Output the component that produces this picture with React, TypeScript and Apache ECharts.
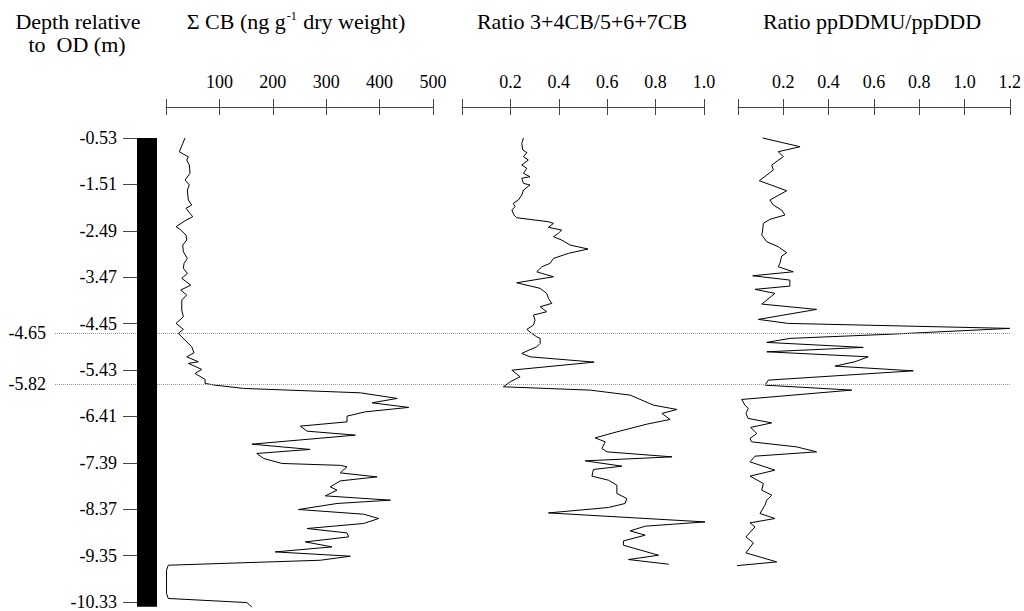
import React, { useEffect, useRef } from 'react';
import * as echarts from 'echarts';

const FONT = '"Liberation Serif", "DejaVu Serif", serif';

// depth axis (m relative to OD)
const depthTicks = [-0.53, -1.51, -2.49, -3.47, -4.45, -5.43, -6.41, -7.39, -8.37, -9.35, -10.33];
const depthTop = -0.53;
const depthBottom = -10.43;
const markerDepths = [-4.65, -5.73];
const markerLabels = ['-4.65', '-5.82'];

// x-axis scales
const cbTicks = [0, 100, 200, 300, 400, 500];
const ratioTicks = [0, 0.2, 0.4, 0.6, 0.8, 1.0];
const ddTicks = [0, 0.2, 0.4, 0.6, 0.8, 1.0, 1.2];

// Σ CB (ng g-1 dry weight): [value, depth]
const sumCB = [
  [35.6, -0.53], [25, -0.82], [32.5, -0.87], [41.8, -0.925], [38.8, -0.995], [43.7, -1.1], [45, -1.276],
  [35.6, -1.417], [43.7, -1.52], [40, -1.628], [41.8, -1.839], [48.2, -1.945], [37.5, -2.015], [50, -2.192],
  [35.6, -2.277], [18.8, -2.403], [26.3, -2.458], [37.5, -2.579], [38.8, -2.684], [31.3, -2.79], [32.5, -2.932],
  [40, -3.071], [33.8, -3.176], [32.5, -3.282], [40, -3.388], [29.5, -3.493], [46.3, -3.635], [27.6, -3.74],
  [38.8, -3.846], [29.5, -3.951], [29.5, -4.163], [32.5, -4.304], [18.8, -4.443], [32.5, -4.57], [23.1, -4.655],
  [35.6, -4.796], [48.2, -4.938], [52.5, -5.064], [38.8, -5.149], [60.6, -5.254], [41.8, -5.288], [67, -5.415],
  [54.4, -5.5], [73.2, -5.626], [73.2, -5.711], [91.9, -5.747], [145, -5.816], [364, -5.909], [432.8, -6.027],
  [386, -6.12], [454.5, -6.217], [373.3, -6.31], [339, -6.401], [339, -6.522], [251.4, -6.612], [264, -6.718],
  [354.6, -6.802], [160.8, -6.993], [270, -7.104], [170, -7.189], [182.5, -7.294], [217, -7.4], [326.4, -7.44],
  [339, -7.47], [326.4, -7.599], [395.3, -7.683], [326.4, -7.768], [307.7, -7.894], [320.2, -7.964],
  [298.3, -8.084], [420.2, -8.175], [320.2, -8.245], [248.2, -8.372], [370.1, -8.471], [398.3, -8.562],
  [370.1, -8.667], [264, -8.773], [339, -8.866], [342, -8.95], [260.8, -9.056], [310.9, -9.161], [204.5, -9.267],
  [345.2, -9.358], [289, -9.443], [4.3, -9.548], [1, -9.654], [1, -10.146], [4.3, -10.25], [151.4, -10.336],
  [160.8, -10.43],
];

// Ratio 3+4CB/5+6+7CB: [value, depth]
const ratioCB = [
  [0.254, -0.53], [0.247, -0.642], [0.251, -0.783], [0.268, -0.84], [0.254, -0.925], [0.274, -0.995],
  [0.247, -1.1], [0.268, -1.17], [0.254, -1.276], [0.281, -1.347], [0.247, -1.381], [0.254, -1.487],
  [0.281, -1.523], [0.254, -1.628], [0.247, -1.734], [0.233, -1.839], [0.212, -1.909], [0.219, -1.981],
  [0.206, -2.051], [0.215, -2.156], [0.226, -2.213], [0.357, -2.298], [0.378, -2.332], [0.357, -2.416],
  [0.412, -2.473], [0.398, -2.543], [0.378, -2.614], [0.412, -2.684], [0.447, -2.79], [0.521, -2.874],
  [0.44, -2.965], [0.378, -3.071], [0.364, -3.176], [0.33, -3.248], [0.309, -3.354], [0.33, -3.387],
  [0.378, -3.459], [0.226, -3.586], [0.323, -3.704], [0.35, -3.81], [0.357, -3.915], [0.371, -4.021],
  [0.323, -4.092], [0.35, -4.198], [0.295, -4.268], [0.302, -4.374], [0.295, -4.479], [0.268, -4.57],
  [0.288, -4.655], [0.309, -4.727], [0.323, -4.76], [0.323, -4.866], [0.309, -4.938], [0.261, -5.043],
  [0.247, -5.077], [0.281, -5.149], [0.447, -5.219], [0.546, -5.261], [0.206, -5.43], [0.24, -5.571],
  [0.199, -5.677], [0.171, -5.782], [0.53, -5.852], [0.695, -5.958], [0.791, -6.169], [0.888, -6.26],
  [0.826, -6.344], [0.86, -6.471], [0.764, -6.57], [0.64, -6.733], [0.55, -6.86], [0.592, -6.944],
  [0.578, -7.083], [0.599, -7.155], [0.868, -7.261], [0.509, -7.345], [0.661, -7.457], [0.543, -7.527],
  [0.537, -7.669], [0.605, -7.753], [0.64, -7.859], [0.64, -8.034], [0.681, -8.14], [0.674, -8.245],
  [0.605, -8.33], [0.357, -8.444], [1.005, -8.634], [0.757, -8.724], [0.695, -8.823], [0.757, -8.914],
  [0.667, -9.035], [0.667, -9.126], [0.812, -9.337], [0.688, -9.428], [0.854, -9.527],
];

// Ratio ppDDMU/ppDDD: [value, depth]
const ratioDD = [
  [0.109, -0.53], [0.274, -0.714], [0.178, -0.819], [0.2, -0.925], [0.149, -1.1], [0.156, -1.206],
  [0.094, -1.432], [0.215, -1.643], [0.141, -1.839], [0.156, -1.945], [0.193, -2.051], [0.207, -2.156],
  [0.141, -2.247], [0.112, -2.331], [0.109, -2.473], [0.105, -2.579], [0.127, -2.72], [0.178, -2.826],
  [0.215, -2.952], [0.193, -3.022], [0.185, -3.176], [0.178, -3.248], [0.244, -3.354], [0.065, -3.438],
  [0.229, -3.529], [0.229, -3.656], [0.075, -3.725], [0.163, -3.81], [0.105, -4.036], [0.347, -4.148],
  [0.09, -4.359], [0.222, -4.444], [1.2, -4.549], [0.685, -4.669], [0.229, -4.76], [0.127, -4.845],
  [0.553, -4.95], [0.127, -5.043], [0.575, -5.149], [0.516, -5.254], [0.428, -5.345], [0.774, -5.445],
  [0.134, -5.641], [0.119, -5.747], [0.502, -5.852], [0.016, -6.049], [0.031, -6.169], [0.045, -6.239],
  [0.035, -6.344], [0.045, -6.45], [0.149, -6.543], [0.056, -6.64], [0.083, -6.767], [0.053, -6.872],
  [0.06, -6.944], [0.259, -7.05], [0.347, -7.155], [0.075, -7.246], [0.053, -7.366], [0.163, -7.542],
  [0.053, -7.668], [0.112, -7.822], [0.105, -7.964], [0.149, -8.07], [0.127, -8.175], [0.119, -8.281],
  [0.097, -8.456], [0.163, -8.562], [0.053, -8.654], [0.075, -8.739], [0.035, -8.95], [0.068, -9.077],
  [0.035, -9.288], [0.171, -9.478], [-0.018, -9.563],
];

const titles = [
  { text: 'Depth relative', cx: 78, y: 10 },
  { text: 'to  OD (m)', cx: 77, y: 33 },
  { text: '{a|Σ CB (ng g}{s|-1}{a| dry weight)}', cx: 296, y: 10 },
  { text: 'Ratio 3+4CB/5+6+7CB', cx: 582, y: 10 },
  { text: 'Ratio ppDDMU/ppDDD', cx: 872, y: 10 },
];

const AXIS_COLOR = '#444';
const GRID_TOP = 138;
const GRID_H = 469;
const TITLE_SIZE = 22;
const LABEL_SIZE = 18;

function topAxes(gridIndex: number, ticks: number[], decimals: number) {
  const min = ticks[0];
  const max = ticks[ticks.length - 1];
  const interval = ticks[1] - ticks[0];
  const common = { type: 'value', gridIndex, position: 'top', offset: 31, min, max, interval, splitLine: { show: false } };
  return [
    {
      ...common,
      axisLine: { show: true, lineStyle: { color: AXIS_COLOR, width: 1 } },
      axisTick: { show: true, length: 8, lineStyle: { color: AXIS_COLOR } },
      axisLabel: {
        show: true, margin: 16, color: '#000', fontSize: LABEL_SIZE, fontFamily: FONT,
        formatter: (v: number) => (Math.abs(v) < 1e-9 ? '' : v.toFixed(decimals)),
      },
    },
    {
      ...common,
      axisLine: { show: false },
      axisTick: { show: true, inside: true, length: 8, lineStyle: { color: AXIS_COLOR } },
      axisLabel: { show: false },
    },
  ];
}

export default function App() {
  const ref = useRef<HTMLDivElement>(null);
  useEffect(() => {
    document.body.style.margin = '0';
    if (!ref.current) return;
    const chart = echarts.init(ref.current, null, { renderer: 'svg' });
    const hiddenY = (gridIndex: number) => ({
      type: 'value', gridIndex, min: depthBottom, max: depthTop, show: false,
    });
    const lineSeries = (data: number[][], xAxisIndex: number, yAxisIndex: number) => ({
      type: 'line', data, xAxisIndex, yAxisIndex, symbol: 'none', clip: false, z: 3,
      lineStyle: { color: '#000', width: 1 }, silent: true,
    });
    chart.setOption({
      animation: false,
      backgroundColor: '#fff',
      grid: [
        { left: 137, width: 20, top: GRID_TOP, height: GRID_H },
        { left: 166, width: 267, top: GRID_TOP, height: GRID_H },
        { left: 462, width: 242, top: GRID_TOP, height: GRID_H },
        { left: 738, width: 272, top: GRID_TOP, height: GRID_H },
        { left: 55, width: 955, top: GRID_TOP, height: GRID_H },
      ],
      xAxis: [
        { type: 'value', gridIndex: 0, min: 0, max: 1, show: false },
        ...topAxes(1, cbTicks, 0),
        ...topAxes(2, ratioTicks, 1),
        ...topAxes(3, ddTicks, 1),
        { type: 'value', gridIndex: 4, min: 0, max: 1, show: false },
      ],
      yAxis: [
        {
          type: 'value', gridIndex: 0, min: depthBottom, max: depthTop,
          axisLine: { show: false },
          splitLine: { show: false },
          axisTick: { show: true, length: 14, customValues: depthTicks, lineStyle: { color: AXIS_COLOR } },
          axisLabel: {
            show: true, margin: 20, customValues: depthTicks, color: '#000', fontSize: LABEL_SIZE, fontFamily: FONT,
            formatter: (v: number) => v.toFixed(2),
          },
        },
        hiddenY(1), hiddenY(2), hiddenY(3), hiddenY(4),
      ],
      graphic: titles.map((t) => ({
        type: 'text', x: t.cx, y: t.y,
        style: {
          text: t.text, textAlign: 'center', textVerticalAlign: 'top', fill: '#000',
          fontSize: TITLE_SIZE, fontFamily: FONT,
          rich: {
            a: { fontSize: TITLE_SIZE, fontFamily: FONT, fill: '#000' },
            s: { fontSize: 12, fontFamily: FONT, fill: '#000', verticalAlign: 'top', padding: [0, 1, 0, 1] },
          },
        },
      })),
      series: [
        {
          type: 'line', xAxisIndex: 7, yAxisIndex: 4, data: [], symbol: 'none', z: 1, silent: true,
          markLine: {
            silent: true, symbol: ['none', 'none'], animation: false,
            lineStyle: { type: 'dotted', color: '#999', width: 1 },
            label: { show: true, position: 'start', distance: 9, color: '#000', fontSize: LABEL_SIZE, fontFamily: FONT },
            data: markerDepths.map((d, i) => ({ yAxis: d, label: { formatter: markerLabels[i] } })),
          },
        },
        {
          type: 'custom', xAxisIndex: 0, yAxisIndex: 0, z: 5, silent: true,
          data: [[0, 1, depthTop, depthBottom]],
          renderItem: (params: any, api: any) => {
            const p1 = api.coord([api.value(0), api.value(2)]);
            const p2 = api.coord([api.value(1), api.value(3)]);
            return { type: 'rect', shape: { x: p1[0], y: p1[1], width: p2[0] - p1[0], height: p2[1] - p1[1] }, style: { fill: '#000' } };
          },
        },
        lineSeries(sumCB, 1, 1),
        lineSeries(ratioCB, 3, 2),
        lineSeries(ratioDD, 5, 3),
      ],
    });
    return () => chart.dispose();
  }, []);
  return <div ref={ref} style={{ width: 1024, height: 611 }} />;
}
